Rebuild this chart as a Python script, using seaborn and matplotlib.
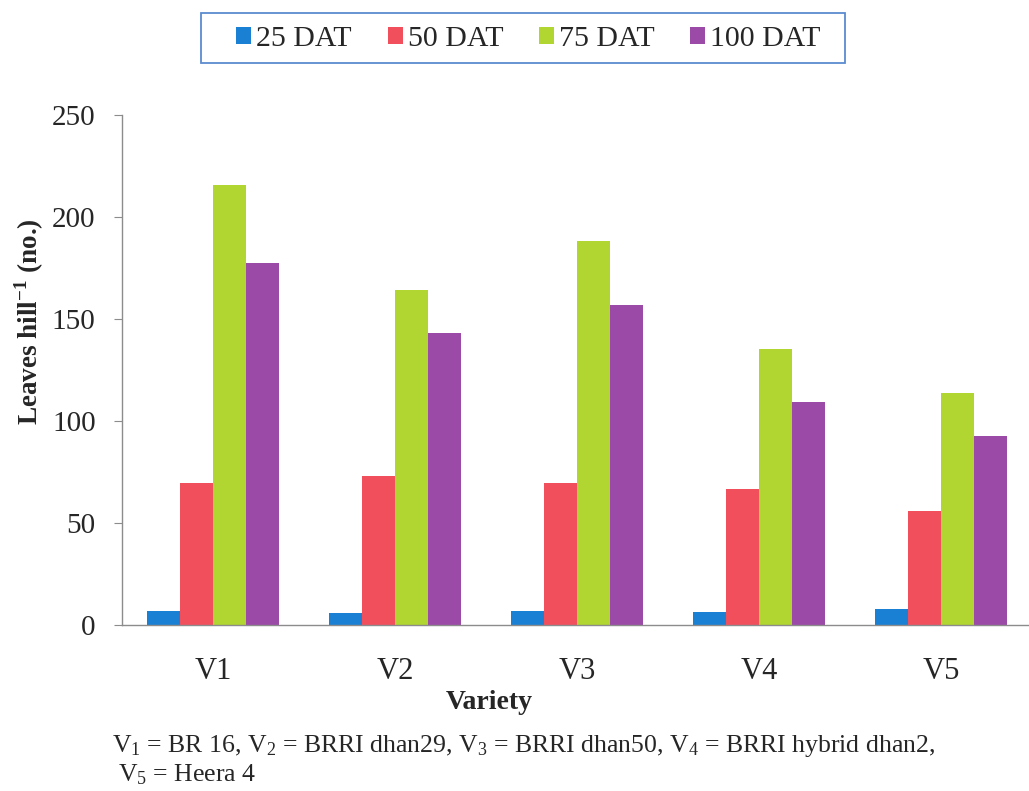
import numpy as np
import pandas as pd
import seaborn as sns
import matplotlib.pyplot as plt
from matplotlib.patches import Rectangle

varieties = ['V1', 'V2', 'V3', 'V4', 'V5']
stages = ['25 DAT', '50 DAT', '75 DAT', '100 DAT']
dat25 = [7.0, 6.0, 7.0, 6.5, 7.6]
dat50 = [69.4, 73.2, 69.4, 66.5, 56.0]
dat75 = [215.7, 164.2, 188.2, 135.3, 113.6]
dat100 = [177.3, 143.0, 156.9, 109.5, 92.8]
colors = ['#1a80d4', '#f24f5d', '#b2d631', '#9c4aa8']

df = pd.DataFrame({
    'Variety': varieties * 4,
    'Stage': np.repeat(stages, len(varieties)),
    'Leaves': dat25 + dat50 + dat75 + dat100,
})

sns.set_style("white")
plt.rcParams['font.family'] = ['Liberation Serif', 'DejaVu Serif']
plt.rcParams['mathtext.fontset'] = 'custom'
plt.rcParams['mathtext.rm'] = 'Liberation Serif'
plt.rcParams['mathtext.bf'] = 'Liberation Serif:bold'

W, H = 1029, 791
fig = plt.figure(figsize=(W / 100, H / 100), dpi=100)
ax = fig.add_axes([122 / W, 166 / H, 910 / W, 510 / H])

sns.barplot(data=df, x='Variety', y='Leaves', hue='Stage', order=varieties,
            hue_order=stages, palette=colors, saturation=1, width=0.725,
            linewidth=0, errorbar=None, ax=ax)

ax.set_xlim(-0.5, 4.5)
ax.set_ylim(0, 250)
ax.set_yticks(range(0, 251, 50))
ax.set_xticks(np.arange(-0.5, 5, 1), minor=True)

grey = '#8c8c8c'
for s in ['top', 'right']:
    ax.spines[s].set_visible(False)
for s in ['left', 'bottom']:
    ax.spines[s].set_color(grey)
    ax.spines[s].set_linewidth(1.0)

ax.tick_params(axis='x', which='major', length=0, pad=23, labelsize=22)
ax.tick_params(axis='x', which='minor', length=6, color=grey, direction='out')
ax.tick_params(axis='y', length=6, color=grey, direction='out', left=True,
               pad=13, labelsize=21)

ax.set_xlabel('Variety', fontsize=20, fontweight='bold')
ax.xaxis.set_label_coords(0.404, -0.127)
ax.set_ylabel(r'Leaves hill$^{\mathbf{-1}}$ (no.)', fontsize=19.5, fontweight='bold')
ax.yaxis.set_label_coords(-0.083, 0.594)

handles, labels = ax.get_legend_handles_labels()
ax.get_legend().remove()
fig.legend(handles, labels, loc='center', bbox_to_anchor=(0.5136, 0.9507),
           ncol=4, frameon=False, fontsize=21.5, handlelength=0.5,
           handleheight=0.53, handletextpad=0.17, columnspacing=1.2)
fig.patches.append(Rectangle((201 / W, 1 - 63 / H), 644 / W, 50 / H,
                             transform=fig.transFigure, fill=False,
                             edgecolor='#5b8bd0', linewidth=1.3))

fig.text(112 / W, 1 - 752 / H,
         r'$\mathregular{V_1}$ = BR 16, $\mathregular{V_2}$ = BRRI dhan29, '
         r'$\mathregular{V_3}$ = BRRI dhan50, $\mathregular{V_4}$ = BRRI hybrid dhan2,',
         fontsize=18.5, va='baseline')
fig.text(118 / W, 1 - 781 / H, r'$\mathregular{V_5}$ = Heera 4',
         fontsize=18.5, va='baseline')

fig.savefig('out.png', dpi=100)
